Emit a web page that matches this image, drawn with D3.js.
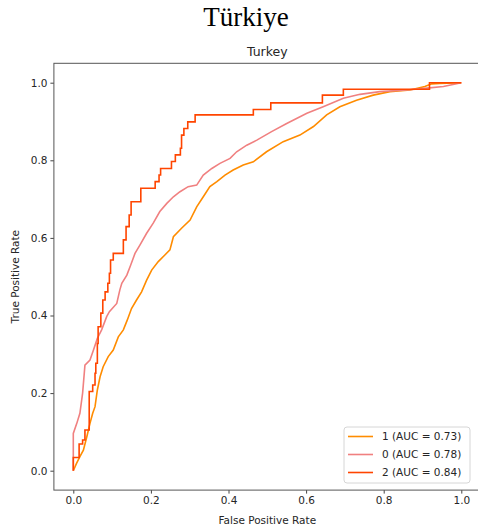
<!DOCTYPE html>
<html>
<head>
<meta charset="utf-8">
<script src="https://cdn.jsdelivr.net/npm/d3@7"></script>
<style>
  body { margin: 0; background: #fff; }
  text { font-family: "DejaVu Sans", sans-serif; fill: #262626; }
</style>
</head>
<body>
<svg id="chart"></svg>
<script>
// ROC readings (false positive rate, true positive rate) per class
const fpr1 = [0, 0.008, 0.017, 0.026, 0.035, 0.043, 0.05, 0.056, 0.062, 0.069, 0.077, 0.09, 0.103, 0.116, 0.129, 0.139, 0.15, 0.163, 0.176, 0.189, 0.202, 0.219, 0.236, 0.249, 0.258, 0.279, 0.301, 0.318, 0.335, 0.352, 0.37, 0.391, 0.412, 0.438, 0.464, 0.498, 0.541, 0.584, 0.619, 0.653, 0.687, 0.73, 0.773, 0.816, 0.868, 0.906, 0.924, 0.945, 1];
const tpr1 = [0, 0.018, 0.036, 0.053, 0.088, 0.122, 0.148, 0.165, 0.208, 0.242, 0.268, 0.294, 0.311, 0.345, 0.363, 0.388, 0.418, 0.44, 0.461, 0.491, 0.517, 0.539, 0.556, 0.569, 0.603, 0.625, 0.646, 0.68, 0.706, 0.732, 0.745, 0.762, 0.775, 0.788, 0.796, 0.822, 0.848, 0.865, 0.887, 0.917, 0.938, 0.955, 0.968, 0.977, 0.981, 0.99, 0.997, 0.998, 1];

const fpr0 = [0, 0, 0.009, 0.017, 0.024, 0.03, 0.043, 0.052, 0.062, 0.073, 0.086, 0.093, 0.112, 0.12, 0.125, 0.138, 0.148, 0.159, 0.172, 0.189, 0.206, 0.223, 0.241, 0.258, 0.275, 0.296, 0.318, 0.335, 0.357, 0.378, 0.404, 0.421, 0.447, 0.473, 0.511, 0.55, 0.602, 0.644, 0.696, 0.739, 0.79, 0.859, 0.911, 0.954, 1];
const tpr0 = [0, 0.096, 0.122, 0.148, 0.2, 0.272, 0.285, 0.311, 0.341, 0.363, 0.397, 0.41, 0.431, 0.466, 0.483, 0.504, 0.53, 0.56, 0.582, 0.612, 0.638, 0.668, 0.689, 0.706, 0.719, 0.732, 0.736, 0.762, 0.779, 0.792, 0.805, 0.822, 0.839, 0.852, 0.874, 0.895, 0.921, 0.938, 0.96, 0.97, 0.977, 0.981, 0.986, 0.99, 1];

// class 2 is coarse: each point is where the curve steps up
const fpr2 = [0, 0, 0.015, 0.024, 0.03, 0.041, 0.05, 0.056, 0.058, 0.062, 0.064, 0.071, 0.076, 0.082, 0.089, 0.093, 0.096, 0.103, 0.129, 0.136, 0.144, 0.149, 0.174, 0.211, 0.221, 0.225, 0.253, 0.263, 0.276, 0.279, 0.285, 0.295, 0.314, 0.464, 0.509, 0.642, 0.696, 0.918, 1];
const tpr2 = [0, 0.034, 0.069, 0.079, 0.105, 0.204, 0.221, 0.251, 0.277, 0.328, 0.371, 0.406, 0.44, 0.461, 0.483, 0.509, 0.543, 0.56, 0.595, 0.629, 0.659, 0.693, 0.728, 0.745, 0.762, 0.779, 0.797, 0.814, 0.831, 0.865, 0.882, 0.899, 0.917, 0.931, 0.948, 0.968, 0.983, 1, 1];

const classes = ["1", "0", "2"];
const aucs = [0.73, 0.78, 0.84];
const colors = ["#ff8c00", "#f08080", "#ff4500"];
const ticks = [0, 0.2, 0.4, 0.6, 0.8, 1.0];

const width = 478, height = 530;

const svg = d3.select("#chart")
    .attr("width", width)
    .attr("height", height);

// plot area (matplotlib style, 5% margins around 0..1)
const x = d3.scaleLinear().domain([-0.05, 1.05]).range([53.9, 480.7]);
const y = d3.scaleLinear().domain([-0.05, 1.05]).range([490.1, 63.3]);

// big title
svg.append("text")
    .attr("x", 246)
    .attr("y", 26)
    .attr("text-anchor", "middle")
    .style("font-family", "'Liberation Serif', 'Times New Roman', serif")
    .style("font-size", "27px")
    .style("fill", "#000")
    .text("Türkiye");

// axes title
svg.append("text")
    .attr("x", (x.range()[0] + x.range()[1]) / 2)
    .attr("y", 56)
    .attr("text-anchor", "middle")
    .style("font-size", "12.5px")
    .text("Turkey");

const xAxis = svg.append("g")
    .attr("transform", `translate(0,${y.range()[0]})`)
    .call(d3.axisBottom(x).tickValues(ticks).tickFormat(d3.format(".1f")).tickSize(3.5).tickPadding(3));
const yAxis = svg.append("g")
    .attr("transform", `translate(${x.range()[0]},0)`)
    .call(d3.axisLeft(y).tickValues(ticks).tickFormat(d3.format(".1f")).tickSize(3.5).tickPadding(3));

[xAxis, yAxis].forEach(a => {
    a.select(".domain").remove();
    a.selectAll(".tick line").attr("stroke", "#444");
    a.selectAll(".tick text")
        .style("font-size", "10.5px")
        .style("font-family", "'DejaVu Sans', sans-serif")
        .attr("fill", "#333");
});

svg.append("text")
    .attr("x", (x.range()[0] + x.range()[1]) / 2)
    .attr("y", 524)
    .attr("text-anchor", "middle")
    .style("font-size", "10.5px")
    .text("False Positive Rate");

svg.append("text")
    .attr("transform", `translate(19,${(y.range()[0] + y.range()[1]) / 2}) rotate(-90)`)
    .attr("text-anchor", "middle")
    .style("font-size", "10.5px")
    .text("True Positive Rate");

// curves: 1 and 0 are dense, so join readings directly; 2 is a coarse staircase
const series = [
    { fpr: fpr1, tpr: tpr1, curve: d3.curveLinear },
    { fpr: fpr0, tpr: tpr0, curve: d3.curveLinear },
    { fpr: fpr2, tpr: tpr2, curve: d3.curveStepAfter }
];

series.forEach((s, i) => {
    const pts = s.fpr.map((f, j) => [f, s.tpr[j]]);
    const line = d3.line()
        .x(d => x(d[0]))
        .y(d => y(d[1]))
        .curve(s.curve);
    svg.append("path")
        .datum(pts)
        .attr("fill", "none")
        .attr("stroke", colors[i])
        .attr("stroke-width", 1.6)
        .attr("d", line);
});

// frame
svg.append("rect")
    .attr("x", x.range()[0])
    .attr("y", y.range()[1])
    .attr("width", x.range()[1] - x.range()[0])
    .attr("height", y.range()[0] - y.range()[1])
    .attr("fill", "none")
    .attr("stroke", "#555")
    .attr("stroke-width", 1);

// legend
const legend = svg.append("g").attr("transform", "translate(344,427)");
legend.append("rect")
    .attr("width", 126)
    .attr("height", 56)
    .attr("rx", 3)
    .attr("fill", "#fff")
    .attr("fill-opacity", 0.8)
    .attr("stroke", "#d6d6d6");

classes.forEach((c, i) => {
    const ly = 9.5 + i * 18;
    legend.append("line")
        .attr("x1", 4).attr("x2", 29)
        .attr("y1", ly).attr("y2", ly)
        .attr("stroke", colors[i])
        .attr("stroke-width", 1.6);
    legend.append("text")
        .attr("x", 38)
        .attr("y", ly)
        .attr("dy", "0.36em")
        .style("font-size", "10.5px")
        .text(`${c} (AUC = ${aucs[i].toFixed(2)})`);
});
</script>
</body>
</html>
